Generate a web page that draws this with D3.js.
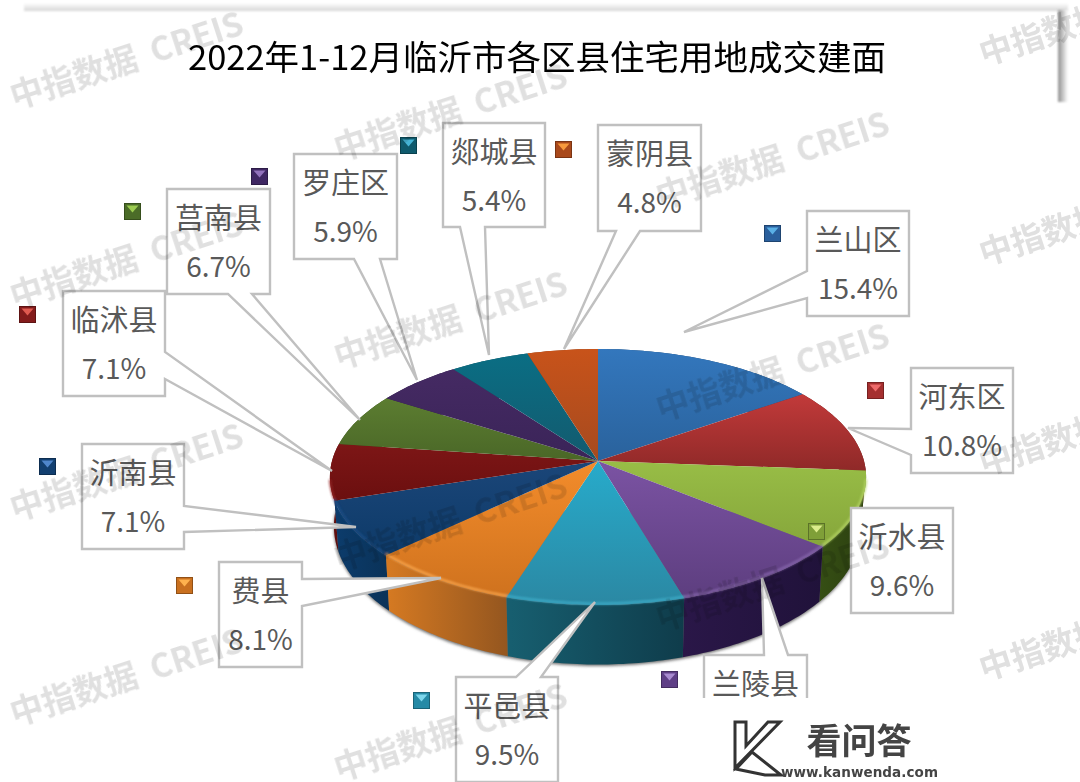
<!DOCTYPE html>
<html>
<head>
<meta charset="utf-8">
<script src="https://cdn.jsdelivr.net/npm/d3@7"></script>
<style>
html,body{margin:0;padding:0;background:#fff;overflow:hidden}
svg{display:block}
text{font-family:"Noto Sans CJK SC","Noto Sans",sans-serif}
</style>
</head>
<body>
<svg id="chart" width="1080" height="782"></svg>
<script>
// ---------- data ----------
const titleText = "2022年1-12月临沂市各区县住宅用地成交建面";
const districts = ["兰山区","河东区","沂水县","兰陵县","平邑县","费县","沂南县","临沭县","莒南县","罗庄区","郯城县","蒙阴县"];
const shares = [15.4,10.8,9.6,9.6,9.5,8.1,7.1,7.1,6.7,5.9,5.4,4.8];

// ---------- palette ----------
const topLight = ["#3377bd","#c23a3a","#98bd46","#7b53a3","#27abcb","#f38c2b","#1b4679","#7d1616","#5c7d31","#452a63","#0a6e84","#c8531a"];
const topDark  = ["#2a629c","#8f2928","#86a63b","#5d3e7f","#2b88a3","#cf721e","#0d3a68","#6b0f0f","#4a6727","#3a2458","#135a6e","#a64a1f"];
const sideLeft = ["#1f4a75","#6f1c1c","#364f14","#2a1748","#175f70","#d67a22","#0c3c6c","#701010","#38501a","#2b1a45","#0d4d5c","#8a3c12"];
const sideRight= ["#1f4a75","#6f1c1c","#2b3f10","#20123a","#0f3c4b","#94561f","#0a3258","#4c0c0c","#38501a","#2b1a45","#0d4d5c","#8a3c12"];
const rimLight = ["#5b96d2","#d86060","#b8d868","#8a6ab0","#3fb0cc","#fbaa52","#1f5088","#962626","#74983f","#5c3d80","#2c8ca3","#dd7336"];
const markerBody = ["#2a5f9c","#a52f2f","#7f9f38","#5f3f86","#258aa6","#c9701f","#123f70","#831b1b","#4b6c28","#3f2763","#0f5a6d","#a9491b"];
const markerLight= ["#5ab0e6","#ee6a6a","#dcec8c","#a98bd0","#7cd6ec","#ffb24e","#4f86cc","#e05a50","#9ccc50","#9272bc","#45b4d6","#f79a3c"];

// ---------- layout ----------
const W = 1080, H = 782;
const apex = {x:598, y:461}, RX = 266, RY = 126, PERSP = 0.125;
// callout boxes in the same order as the districts: box, pointer side, pointer base, pointer tip
const callouts = [
 {x0:807,y0:211,x1:909,y1:316,side:"l",a:271,b:298,tx:684,ty:332},
 {x0:911,y0:368,x1:1013,y1:473,side:"l",a:429,b:455,tx:848,ty:428},
 {x0:851,y0:508,x1:953,y1:613,side:"n"},
 {x0:704,y0:655,x1:807,y1:760,side:"t",a:764,b:788,tx:762,ty:578},
 {x0:456,y0:677,x1:558,y1:782,side:"t",a:516,b:541,tx:595,ty:602},
 {x0:219,y0:562,x1:302,y1:667,side:"r",a:579,b:606,tx:441,ty:578},
 {x0:82,y0:444,x1:184,y1:549,side:"r",a:506,b:532,tx:356,ty:527},
 {x0:63,y0:291,x1:165,y1:396,side:"r",a:352,b:379,tx:332,ty:471},
 {x0:167,y0:189,x1:270,y1:294,side:"b",a:228,b:252,tx:360,ty:420},
 {x0:294,y0:154,x1:397,y1:259,side:"b",a:354,b:380,tx:417,ty:380},
 {x0:443,y0:123,x1:545,y1:227,side:"b",a:460,b:485,tx:489,ty:355},
 {x0:598,y0:125,x1:701,y1:231,side:"b",a:616,b:640,tx:564,ty:349}
];
const markerPos = [[764,225],[867,382],[808,523],[661,671],[413,692],[176,577],[39,458],[19,306],[124,203],[251,168],[400,137],[555,141]];
const watermarkCentres = [[126,58],[450,110],[772,158],[1095,15],[126,258],[450,318],[772,370],[1095,215],[126,470],[450,520],[772,580],[1095,425],[126,675],[450,730],[1095,630]];

const svg = d3.select("#chart");
const defs = svg.append("defs");

// perspective projection of the pie's unit circle
const rimPt = th => {
  const w = 1 + PERSP*Math.cos(th);
  return [apex.x + RX*Math.sin(th)/w, apex.y - RY*Math.cos(th)/w];
};
const basePt = th => {
  const p = rimPt(th);
  return [apex.x + (p[0]-apex.x)*0.985, apex.y + (p[1]-apex.y)*1.08 + 48];
};
const sampleArc = (a,b,f) => {
  const n = Math.max(2, Math.ceil((b-a)/(Math.PI/180)));
  return d3.range(n+1).map(i => f(a+(b-a)*i/n));
};
const line = d3.line();
const arcsData = d3.pie().sort(null).value(d=>d)(shares);

// gradients
arcsData.forEach((d,i)=>{
  const g = defs.append("linearGradient").attr("id","top"+i).attr("x1",0).attr("y1",0).attr("x2",0).attr("y2",1);
  g.append("stop").attr("offset",0).attr("stop-color",topLight[i]);
  g.append("stop").attr("offset",1).attr("stop-color",topDark[i]);
  const s = defs.append("linearGradient").attr("id","side"+i).attr("x1",0).attr("y1",0).attr("x2",1).attr("y2",0);
  s.append("stop").attr("offset",0).attr("stop-color",sideLeft[i]);
  s.append("stop").attr("offset",1).attr("stop-color",sideRight[i]);
});
const frameGradTop = defs.append("linearGradient").attr("id","frameTop").attr("x1",0).attr("y1",0).attr("x2",0).attr("y2",1);
frameGradTop.append("stop").attr("offset",0).attr("stop-color","#ffffff");
frameGradTop.append("stop").attr("offset",1).attr("stop-color","#d6d6d6");
const frameGradRight = defs.append("linearGradient").attr("id","frameRight").attr("x1",0).attr("y1",0).attr("x2",1).attr("y2",0);
frameGradRight.append("stop").attr("offset",0).attr("stop-color","#8f8f8f");
frameGradRight.append("stop").attr("offset",1).attr("stop-color","#ffffff");
defs.append("filter").attr("id","soft").attr("x","-10%").attr("y","-10%").attr("width","120%").attr("height","120%")
    .append("feGaussianBlur").attr("stdDeviation",1.6);
defs.append("filter").attr("id","softer").attr("x","-20%").attr("y","-20%").attr("width","140%").attr("height","140%")
    .append("feGaussianBlur").attr("stdDeviation",1);

svg.append("rect").attr("width",W).attr("height",H).attr("fill","#fff");

// frame shadows
svg.append("rect").attr("x",24).attr("y",3).attr("width",1044).attr("height",8).attr("fill","url(#frameTop)").attr("filter","url(#softer)");
svg.append("rect").attr("x",1058).attr("y",10).attr("width",10).attr("height",92).attr("fill","url(#frameRight)").attr("filter","url(#softer)");

// ground shadow of the pie
svg.append("path")
  .attr("d", line(sampleArc(Math.PI*0.5,Math.PI*1.5,basePt).map(p=>[p[0],p[1]+1.5]))+"Z")
  .attr("fill","#6f6f6f").attr("filter","url(#soft)");

// side walls, drawn from the back towards the front
const frontness = d => -Math.cos((d.startAngle+d.endAngle)/2);
const sideOrder = arcsData.map((d,i)=>({d,i})).sort((a,b)=>frontness(a.d)-frontness(b.d));
svg.append("g").selectAll("path").data(sideOrder).join("path")
  .attr("d", o => line(sampleArc(o.d.startAngle,o.d.endAngle,rimPt).concat(sampleArc(o.d.startAngle,o.d.endAngle,basePt).reverse()))+"Z")
  .attr("fill", o => `url(#side${o.i})`);

// top face
svg.append("g").selectAll("path").data(arcsData).join("path")
  .attr("d",(d)=>line([[apex.x,apex.y]].concat(sampleArc(d.startAngle,d.endAngle,rimPt)))+"Z")
  .attr("fill",(d,i)=>`url(#top${i})`);

// bevel highlight along the front rim
svg.append("g").attr("filter","url(#softer)").attr("opacity",0.8).selectAll("path").data(arcsData.map((d,i)=>({d,i})).filter(o=>Math.cos((o.d.startAngle+o.d.endAngle)/2)<0.1)).join("path")
  .attr("d",o=>{
    const a = Math.max(o.d.startAngle,Math.PI*0.55), b = Math.min(o.d.endAngle,Math.PI*1.45);
    return b>a ? line(sampleArc(a,b,rimPt).map(p=>[p[0],p[1]-1.5])) : null;
  })
  .attr("fill","none").attr("stroke",o=>rimLight[o.i]).attr("stroke-width",2.5);

// callouts
function calloutPath(c){
  const {x0,y0,x1,y1,side,a,b,tx,ty} = c;
  const pts = [[x0,y0]];
  if(side==="t") pts.push([a,y0],[tx,ty],[b,y0]);
  pts.push([x1,y0]);
  if(side==="r") pts.push([x1,a],[tx,ty],[x1,b]);
  pts.push([x1,y1]);
  if(side==="b") pts.push([b,y1],[tx,ty],[a,y1]);
  pts.push([x0,y1]);
  if(side==="l") pts.push([x0,b],[tx,ty],[x0,a]);
  return line(pts)+"Z";
}
const labels = svg.append("g").selectAll("g").data(districts).join("g");
labels.append("path").attr("d",(d,i)=>calloutPath(callouts[i]))
  .attr("fill","#fff").attr("stroke","#c0c0c0").attr("stroke-width",2.4).attr("stroke-linejoin","miter");
labels.append("text").attr("x",(d,i)=>(callouts[i].x0+callouts[i].x1)/2).attr("y",(d,i)=>callouts[i].y0+40)
  .attr("text-anchor","middle").attr("font-size",29).attr("fill","#595959").text(d=>d);
labels.append("text").attr("x",(d,i)=>(callouts[i].x0+callouts[i].x1)/2).attr("y",(d,i)=>callouts[i].y0+88)
  .attr("text-anchor","middle").attr("font-size",28).attr("fill","#595959").text((d,i)=>shares[i].toFixed(1)+"%");

// bevelled legend keys
const keys = svg.append("g").selectAll("g").data(districts).join("g")
  .attr("transform",(d,i)=>`translate(${markerPos[i][0]},${markerPos[i][1]})`);
keys.append("rect").attr("width",17).attr("height",17).attr("fill",(d,i)=>markerBody[i]);
keys.append("path").attr("d",line([[2.5,2.5],[14.5,2.5],[8.5,9.5]])+"Z").attr("fill",(d,i)=>markerLight[i]);
keys.append("rect").attr("x",0.5).attr("y",0.5).attr("width",16).attr("height",16).attr("fill","none")
  .attr("stroke","#000").attr("stroke-opacity",0.28);

// watermark
svg.append("g").style("mix-blend-mode","multiply").selectAll("text").data(watermarkCentres).join("text")
  .attr("transform",d=>`translate(${d[0]},${d[1]}) rotate(-18)`)
  .attr("text-anchor","middle").attr("dominant-baseline","central")
  .attr("font-size",33).attr("font-weight",700).attr("fill","#e0e0e0")
  .style("white-space","pre").text("中指数据  CREIS");

// title
svg.append("text").attr("x",537).attr("y",70).attr("text-anchor","middle")
  .attr("font-size",34.5).attr("fill","#000").text(titleText);

// logo panel
svg.append("rect").attr("x",680).attr("y",698).attr("width",270).attr("height",84).attr("fill","#fff");
const logo = svg.append("g");
logo.append("path").attr("d",line([[735,722],[746,722],[746,746],[768,722],[780,722],[735,768]])+"Z")
  .attr("fill","#fff").attr("stroke","#333").attr("stroke-width",3);
logo.append("path").attr("d",line([[736,769],[752,752],[781,775],[765,775]])+"Z")
  .attr("fill","#fff").attr("stroke","#333").attr("stroke-width",3);
logo.append("text").attr("x",859).attr("y",754).attr("text-anchor","middle")
  .attr("font-size",35).attr("font-weight",700).attr("fill","#444").text("看问答");
logo.append("text").attr("x",781).attr("y",777).attr("textLength",157)
  .attr("font-size",13.5).attr("font-weight",700).attr("fill","#444")
  .style("font-family","'DejaVu Sans',sans-serif").text("www.kanwenda.com");
</script>
</body>
</html>
